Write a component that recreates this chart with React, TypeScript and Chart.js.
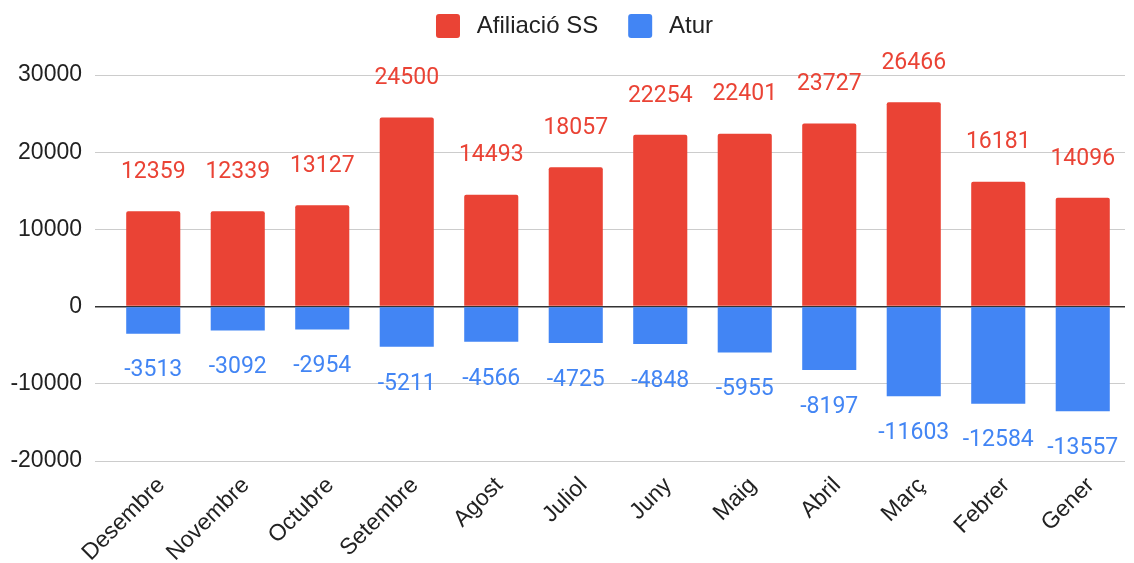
import React, { useEffect, useRef } from "react";
import { Chart, registerables } from "chart.js";

Chart.register(...registerables);

const categories = ["Desembre", "Novembre", "Octubre", "Setembre", "Agost", "Juliol", "Juny", "Maig", "Abril", "Març", "Febrer", "Gener"];
const afiliacio = [12359, 12339, 13127, 24500, 14493, 18057, 22254, 22401, 23727, 26466, 16181, 14096];
const atur = [-3513, -3092, -2954, -5211, -4566, -4725, -4848, -5955, -8197, -11603, -12584, -13557];
const seriesNames = ["Afiliació SS", "Atur"];
const yMin = -20000;
const yMax = 30000;
const yStep = 10000;

const RED = "#ea4335";
const BLUE = "#4285f4";
const LABEL_FONT = "Roboto, Arial, sans-serif";
const AXIS_FONT = "'Liberation Sans', Arial, sans-serif";

const valueLabels = {
  id: "valueLabels",
  afterDatasetsDraw(chart: any) {
    const ctx = chart.ctx;
    ctx.save();
    ctx.font = `23px ${LABEL_FONT}`;
    ctx.textAlign = "center";
    ctx.textBaseline = "middle";
    chart.data.datasets.forEach((ds: any, di: number) => {
      const meta = chart.getDatasetMeta(di);
      ctx.fillStyle = ds.backgroundColor;
      meta.data.forEach((bar: any, i: number) => {
        const v = ds.data[i];
        const y = v >= 0 ? bar.y - 39 : bar.y + 37;
        ctx.fillText(String(v), bar.x, y);
      });
    });
    ctx.restore();
  },
};

const legendGap = {
  id: "legendGap",
  beforeLayout(chart: any) {
    const lg = chart.legend;
    if (lg && !lg._patched) {
      const origFit = lg.fit;
      lg.fit = function () {
        origFit.call(this);
        this.height += 27;
      };
      const origDraw = lg.draw;
      lg.draw = function () {
        const c = this.ctx;
        c.save();
        c.translate(12, 0);
        origDraw.call(this);
        c.restore();
      };
      lg._patched = true;
    }
  },
};

export default function App() {
  const ref = useRef<HTMLCanvasElement>(null);
  useEffect(() => {
    document.body.style.margin = "0";
    const chart = new Chart(ref.current!, {
      type: "bar",
      data: {
        labels: categories,
        datasets: [
          { label: seriesNames[0], data: afiliacio, backgroundColor: RED, borderRadius: { topLeft: 2, topRight: 2, bottomLeft: 0, bottomRight: 0 }, borderSkipped: false },
          { label: seriesNames[1], data: atur, backgroundColor: BLUE },
        ],
      },
      plugins: [valueLabels, legendGap],
      options: {
        animation: false,
        responsive: false,
        maintainAspectRatio: false,
        layout: { padding: { top: 4, right: 9, left: 0, bottom: 0 } },
        datasets: { bar: { categoryPercentage: 1, barPercentage: 0.64 } },
        plugins: {
          legend: {
            position: "top",
            labels: {
              boxWidth: 24,
              boxHeight: 24,
              padding: 10,
              color: "#222",
              font: { family: AXIS_FONT, size: 24 },
              generateLabels: (chart: any) =>
                chart.data.datasets.map((ds: any, i: number) => ({
                  text: "\u2009" + ds.label + (i === 0 ? "   " : ""),
                  fillStyle: ds.backgroundColor,
                  strokeStyle: ds.backgroundColor,
                  lineWidth: 0,
                  borderRadius: 3,
                  datasetIndex: i,
                  hidden: false,
                  fontColor: "#222",
                })),
            },
          },
          tooltip: { enabled: false },
        },
        scales: {
          x: {
            stacked: true,
            grid: { display: false },
            border: { display: false },
            ticks: {
              color: "#222",
              font: { family: AXIS_FONT, size: 23 },
              maxRotation: 45,
              minRotation: 45,
              autoSkip: false,
              labelOffset: 8,
            },
            afterFit: (s: any) => {
              s.height = 102;
            },
          },
          y: {
            stacked: true,
            min: yMin,
            max: yMax,
            border: { display: false },
            grid: {
              color: (c: any) => (c.tick && c.tick.value === 0 ? "#333" : "#ccc"),
              lineWidth: (c: any) => (c.tick && c.tick.value === 0 ? 1.5 : 1),
              tickLength: 16,
              drawTicks: true,
            },
            ticks: {
              stepSize: yStep,
              padding: 13,
              color: "#222",
              font: { family: AXIS_FONT, size: 23 },
              callback: (v: any) => String(v),
            },
            afterFit: (s: any) => {
              s.width = 111;
            },
          },
        },
      },
    });
    return () => chart.destroy();
  }, []);
  return (
    <div style={{ width: 1134, height: 563 }}>
      <canvas ref={ref} width={1134} height={563} style={{ display: "block" }} />
    </div>
  );
}
